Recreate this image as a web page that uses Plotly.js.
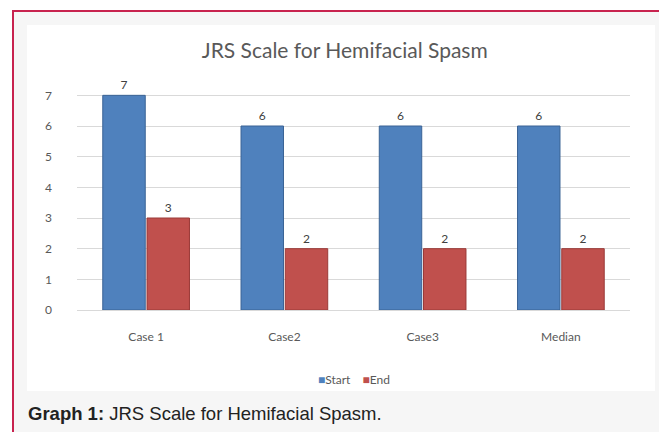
<!DOCTYPE html>
<html><head><meta charset="utf-8">
<script src="https://cdn.plot.ly/plotly-3.0.1.min.js"></script>
<style>
html,body{margin:0;padding:0;background:#fff;width:659px;height:432px;overflow:hidden;}
#frame{position:absolute;left:12px;top:10px;width:647px;height:422px;border-top:2px solid #c8234f;border-left:2px solid #c8234f;background:#f6f6f6;box-sizing:border-box;}
#chart{position:absolute;left:27px;top:25px;width:628px;height:366px;background:#fff;}
#cap{position:absolute;left:28px;top:403px;font-family:"Liberation Sans",Arial,sans-serif;font-size:18.5px;color:#222;}
</style></head>
<body>
<div id="frame"></div>
<div id="chart"></div>
<div id="cap"><b>Graph 1:</b> JRS Scale for Hemifacial Spasm.</div>
<script>
const categories = ["Case 1", "Case2", "Case3", "Median"];
const startValues = [7, 6, 6, 6];
const endValues = [3, 2, 2, 2];
const yTicks = [0, 1, 2, 3, 4, 5, 6, 7];
const seriesNames = ["Start", "End"];
const seriesColors = ["#4f81bd", "#c0504d"];

const fontFam = "Lato, 'Open Sans', sans-serif";
const traces = [
  {type: "bar", name: seriesNames[0], x: categories, y: startValues,
   text: startValues.map(String), textposition: "outside", cliponaxis: false,
   textfont: {size: 12, color: "#404040", family: fontFam},
   marker: {color: seriesColors[0], line: {color: "#3a6395", width: 1}}},
  {type: "bar", name: seriesNames[1], x: categories, y: endValues,
   text: endValues.map(String), textposition: "outside", cliponaxis: false,
   textfont: {size: 12, color: "#404040", family: fontFam},
   marker: {color: seriesColors[1], line: {color: "#9a3a38", width: 1}}}
];

const legendText = seriesNames.map((n, i) =>
  `<span style="color:${seriesColors[i]}">■</span><span style="color:#595959">${n}</span>`).join("\u2002\u2002");

const layout = {
  width: 628, height: 366,
  margin: {l: 50, r: 25, t: 55, b: 81},
  paper_bgcolor: "#ffffff", plot_bgcolor: "#ffffff",
  title: {text: "JRS Scale for Hemifacial Spasm", x: 0.506, xanchor: "center", y: 0.95, yref: "container",
          font: {size: 21, color: "#595959", family: fontFam}},
  barmode: "group", bargap: 0.36, bargroupgap: 0.04,
  showlegend: false,
  annotations: [{text: legendText, xref: "paper", yref: "paper", x: 0.5, y: -0.3, xanchor: "center", yanchor: "middle",
                 showarrow: false, font: {size: 12, color: "#595959", family: fontFam}}],
  xaxis: {type: "category", showgrid: false, zeroline: false, showline: false, ticks: "",
          ticklabelstandoff: 18, tickfont: {size: 12, color: "#595959", family: fontFam}},
  yaxis: {range: [0, 7.5], tickvals: yTicks, ticktext: yTicks.map(String), showgrid: true,
          gridcolor: "#d9d9d9", zeroline: true, zerolinecolor: "#d9d9d9", showline: false, ticks: "",
          ticklabelstandoff: 24, tickfont: {size: 12, color: "#595959", family: fontFam}}
};
Plotly.newPlot("chart", traces, layout, {displayModeBar: false, staticPlot: true});
</script>
</body></html>
